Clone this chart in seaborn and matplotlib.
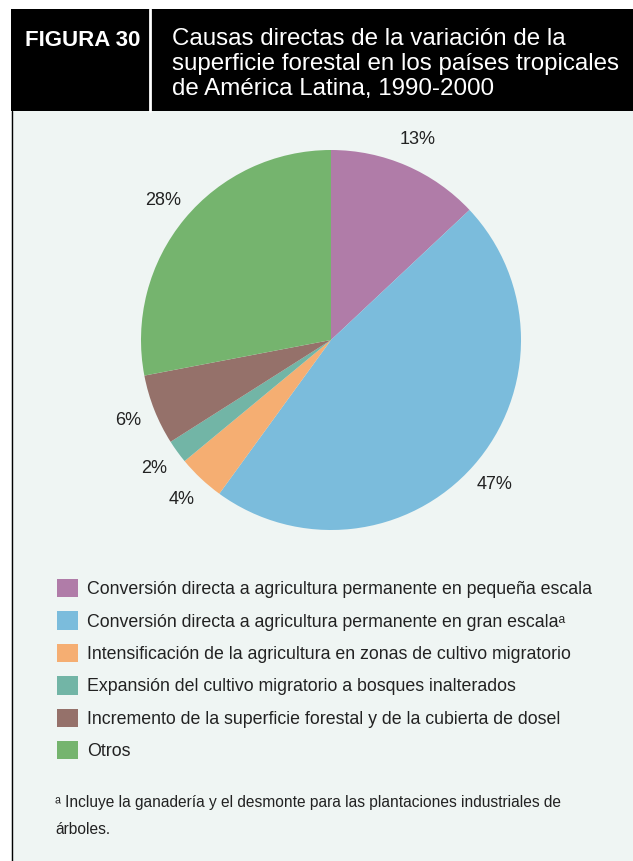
import matplotlib.pyplot as plt
import matplotlib.patches as mpatches
import seaborn as sns

# ----------------------------
# Data
# ----------------------------
causes = [
    "Conversión directa a agricultura permanente en pequeña escala",
    "Conversión directa a agricultura permanente en gran escalaᵃ",
    "Intensificación de la agricultura en zonas de cultivo migratorio",
    "Expansión del cultivo migratorio a bosques inalterados",
    "Incremento de la superficie forestal y de la cubierta de dosel",
    "Otros",
]
shares = [13, 47, 4, 2, 6, 28]
colors = ["#b07ca8", "#7bbcdc", "#f5ae72", "#72b5a6", "#95716a", "#75b46e"]

title_lines = "Causas directas de la variación de la\nsuperficie forestal en los países tropicales\nde América Latina, 1990-2000"
footnote = "ᵃ Incluye la ganadería y el desmonte para las plantaciones industriales de\nárboles."

sns.set_theme(style="white")
plt.rcParams["font.family"] = ["Liberation Sans", "DejaVu Sans"]

W, H = 633, 861
fig = plt.figure(figsize=(W / 100, H / 100), dpi=100)
fig.patch.set_facecolor("white")


def fx(px):
    return px / W


def fy(py):
    return 1 - py / H


# panel and header (behind the pie)
fig.add_artist(mpatches.Rectangle((fx(11), 0), fx(W - 11), fy(111), transform=fig.transFigure,
                                  facecolor="#eff5f3", edgecolor="none", zorder=-10))
fig.add_artist(plt.Line2D([fx(11.5), fx(11.5)], [0, fy(111)], transform=fig.transFigure,
                          color="black", lw=1, zorder=-9))
fig.add_artist(mpatches.Rectangle((fx(11), fy(111)), fx(W - 11), (111 - 9) / H, transform=fig.transFigure,
                                  facecolor="black", edgecolor="none", zorder=-9))
fig.add_artist(plt.Line2D([fx(150), fx(150)], [fy(111), fy(9)], transform=fig.transFigure,
                          color="white", lw=2, zorder=-8))

fig.text(fx(25), fy(40), "FIGURA 30", color="white", fontsize=16, fontweight="bold",
         va="center", ha="left")
fig.text(fx(172), fy(64), title_lines, color="white", fontsize=17.4, va="center", ha="left",
         linespacing=1.17)

# pie
cx, cy, r = 331, 340, 190
ax = fig.add_axes([fx(cx - r), fy(cy + r), 2 * r / W, 2 * r / H])
ax.patch.set_alpha(0)
wedges, _, autotexts = ax.pie(shares, colors=colors, startangle=90, counterclock=False,
                              autopct=lambda p: f"{p:.0f}%", pctdistance=1.15,
                              wedgeprops=dict(linewidth=0),
                              textprops=dict(fontsize=13, color="#222222"))
ax.set_xlim(-1, 1)
ax.set_ylim(-1, 1)
ax.set_aspect("auto")
ax.axis("off")

# legend
fs = 12.8
leg = fig.legend(wedges, causes, loc="upper left", bbox_to_anchor=(fx(57), fy(579)),
                 bbox_transform=fig.transFigure, frameon=False, fontsize=fs,
                 handlelength=1.2, handleheight=1.2, handletextpad=0.5,
                 labelspacing=0.75, borderpad=0, borderaxespad=0)
for t in leg.get_texts():
    t.set_color("#222222")

fig.text(fx(55), fy(816), footnote, fontsize=11.2, color="#222222", va="center", ha="left",
         linespacing=1.95)

plt.savefig("out.png", dpi=100)
